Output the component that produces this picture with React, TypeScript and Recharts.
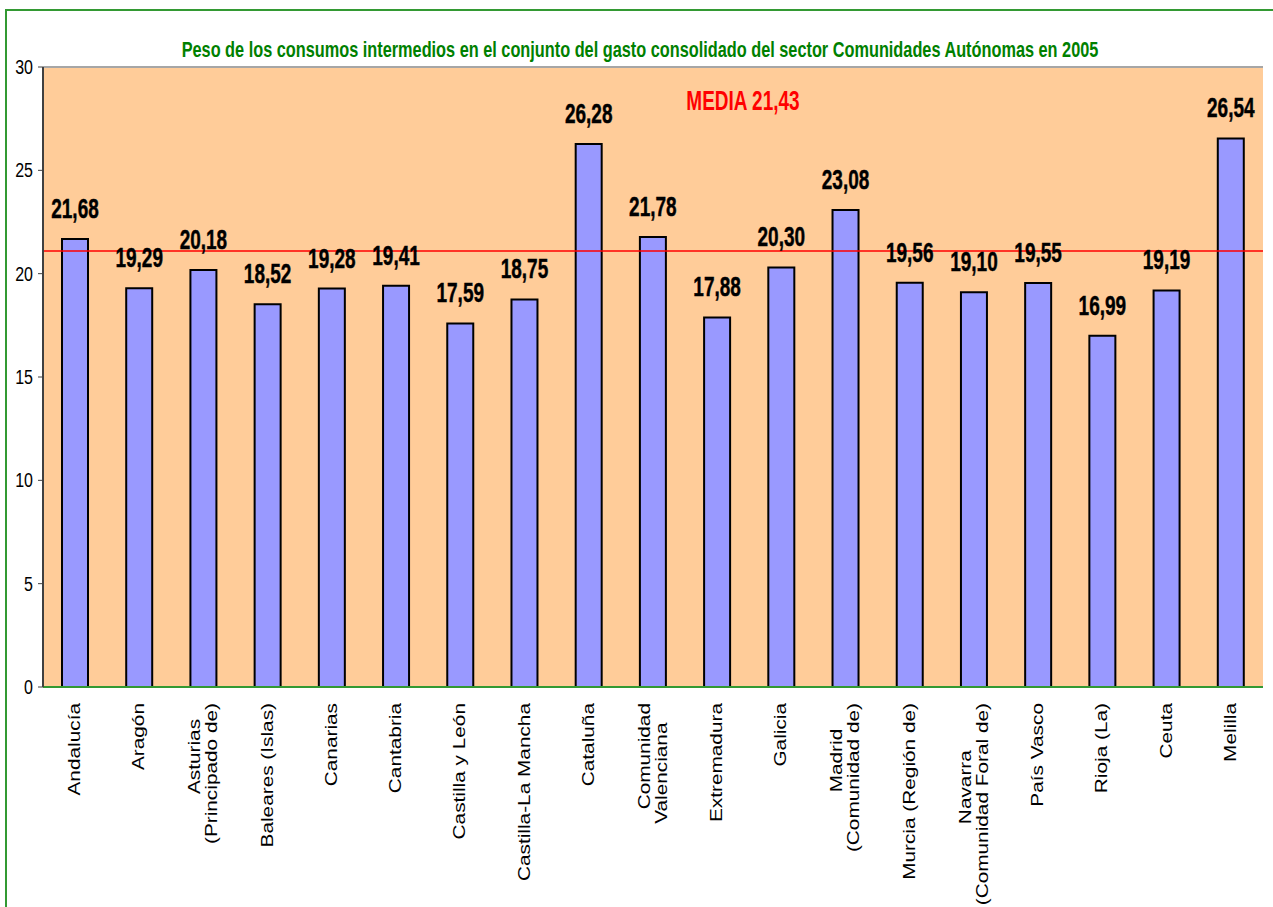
import React from 'react';
import { BarChart, Bar, XAxis, YAxis, CartesianGrid, ReferenceLine, LabelList, Customized } from 'recharts';

const title = 'Peso de los consumos intermedios en el conjunto del gasto consolidado del sector Comunidades Autónomas en 2005';
const mediaText = 'MEDIA 21,43';
const mediaLine = 21.1; // where the red line sits in the picture

const categories = [
  'Andalucía',
  'Aragón',
  'Asturias\n(Principado de)',
  'Baleares (Islas)',
  'Canarias',
  'Cantabria',
  'Castilla y León',
  'Castilla-La Mancha',
  'Cataluña',
  'Comunidad\nValenciana',
  'Extremadura',
  'Galicia',
  'Madrid\n(Comunidad de)',
  'Murcia (Región de)',
  'Navarra\n(Comunidad Foral de)',
  'País Vasco',
  'Rioja (La)',
  'Ceuta',
  'Melilla',
];
const values = [21.68, 19.29, 20.18, 18.52, 19.28, 19.41, 17.59, 18.75, 26.28, 21.78, 17.88, 20.3, 23.08, 19.56, 19.1, 19.55, 16.99, 19.19, 26.54];
const yTicks = [0, 5, 10, 15, 20, 25, 30];

const data = categories.map((name, i) => ({ name, value: values[i] }));
const boundaries = categories.map((_, i) => i).concat(categories.length);

const FONT = "'Liberation Sans', Arial, sans-serif";
const GREEN = '#339933';

let ctx: CanvasRenderingContext2D | null = null;
const textWidth = (s: string, font: string) => {
  if (!ctx) ctx = document.createElement('canvas').getContext('2d');
  if (!ctx) return s.length * 8.5;
  ctx.font = font;
  return ctx.measureText(s).width;
};

// the original image is stretched vertically, so text is drawn taller than wide
const tall = (x: number, y: number, k: number) => `translate(${x},${y}) scale(1,${k}) translate(${-x},${-y})`;

const fmt = (v: number) => v.toFixed(2).replace('.', ',');

const CategoryTick = (props: any) => {
  const { x, y, payload } = props;
  const lines = String(payload.value).split('\n');
  const n = lines.length;
  const stretch = 1.3;
  const widths = lines.map((l) => textWidth(l, `16px ${FONT}`) * stretch);
  // earlier lines sit about one line higher than the last one
  const shift = lines.map((_, i) => (n - 1 - i) * 17);
  const c = Math.max(...widths.map((w, i) => w / 2 + shift[i]));
  const top = y + 15;
  return (
    <g>
      {lines.map((l, i) => {
        const cy = top + c - shift[i];
        const bx = x + 5 + (i - (n - 1) / 2) * 17;
        return (
          <text
            key={i}
            transform={`translate(${bx},${cy}) rotate(-90) scale(${stretch},1)`}
            textAnchor="middle"
            fontFamily={FONT}
            fontSize={16}
            fill="#000"
          >
            {l}
          </text>
        );
      })}
    </g>
  );
};

const YTick = (props: any) => {
  const { x, y, payload } = props;
  const by = y + 7;
  return (
    <text x={x} y={by} transform={tall(x, by, 1.3)} textAnchor="end" fontFamily={FONT} fontSize={16} fill="#000">
      {payload.value}
    </text>
  );
};

const ValueLabel = (props: any) => {
  const { x, y, width, value } = props;
  const cx = x + width / 2;
  const by = y - 21;
  return (
    <text
      x={cx}
      y={by}
      transform={tall(cx, by, 1.5)}
      textAnchor="middle"
      fontFamily={FONT}
      fontWeight="bold"
      fontSize={19}
      fill="#000"
      stroke="#000"
      strokeWidth={0.3}
    >
      {fmt(value)}
    </text>
  );
};

const Headings = () => (
  <g>
    <text x={640} y={57} transform={tall(640, 57, 1.35)} textAnchor="middle" fontFamily={FONT} fontWeight="bold" fontSize={16.3} fill="#008000">
      {title}
    </text>
    <text x={743} y={110} transform={tall(743, 110, 1.5)} textAnchor="middle" fontFamily={FONT} fontWeight="bold" fontSize={19} fill="#FF0000">
      {mediaText}
    </text>
  </g>
);

export default function App() {
  return (
    <div style={{ position: 'absolute', left: 0, top: 0, width: 1273, height: 907, background: '#fff', overflow: 'hidden' }}>
      <div style={{ position: 'absolute', left: 5, top: 9, width: 1300, height: 1000, border: `2px solid ${GREEN}` }} />
      <div style={{ position: 'absolute', left: 0, top: 0 }}>
        <BarChart width={1273} height={907} data={data} margin={{ top: 67, right: 10, bottom: 0, left: 0 }}>
          <CartesianGrid xAxisId="cat" horizontal={false} vertical={false} fill="#FFCC99" />
          <XAxis
            xAxisId="bounds"
            type="number"
            domain={[0, categories.length]}
            ticks={boundaries}
            interval={0}
            allowDataOverflow
            tick={false}
            tickLine={{ stroke: GREEN, strokeWidth: 1.5 }}
            tickSize={7}
            axisLine={{ stroke: GREEN, strokeWidth: 2 }}
            height={1}
          />
          <XAxis
            xAxisId="cat"
            dataKey="name"
            interval={0}
            tickLine={false}
            axisLine={false}
            tickSize={0}
            tickMargin={0}
            tick={<CategoryTick />}
            height={219}
          />
          <YAxis
            domain={[0, 30]}
            ticks={yTicks}
            interval={0}
            width={43}
            axisLine={{ stroke: '#404040', strokeWidth: 2 }}
            tickLine={{ stroke: '#404040' }}
            tickSize={5}
            tickMargin={5}
            tick={<YTick />}
          />
          <ReferenceLine xAxisId="cat" y={30} stroke="#a6a6a6" strokeWidth={2} />
          <ReferenceLine xAxisId="bounds" x={categories.length} stroke="#a6a6a6" strokeWidth={2} />
          <ReferenceLine xAxisId="cat" y={mediaLine} stroke="#FF0000" strokeWidth={1.5} />
          <Bar xAxisId="cat" dataKey="value" fill="#9999FF" stroke="#000" strokeWidth={2} barSize={26} isAnimationActive={false}>
            <LabelList dataKey="value" content={<ValueLabel />} />
          </Bar>
          <Customized component={<Headings />} />
        </BarChart>
      </div>
    </div>
  );
}
